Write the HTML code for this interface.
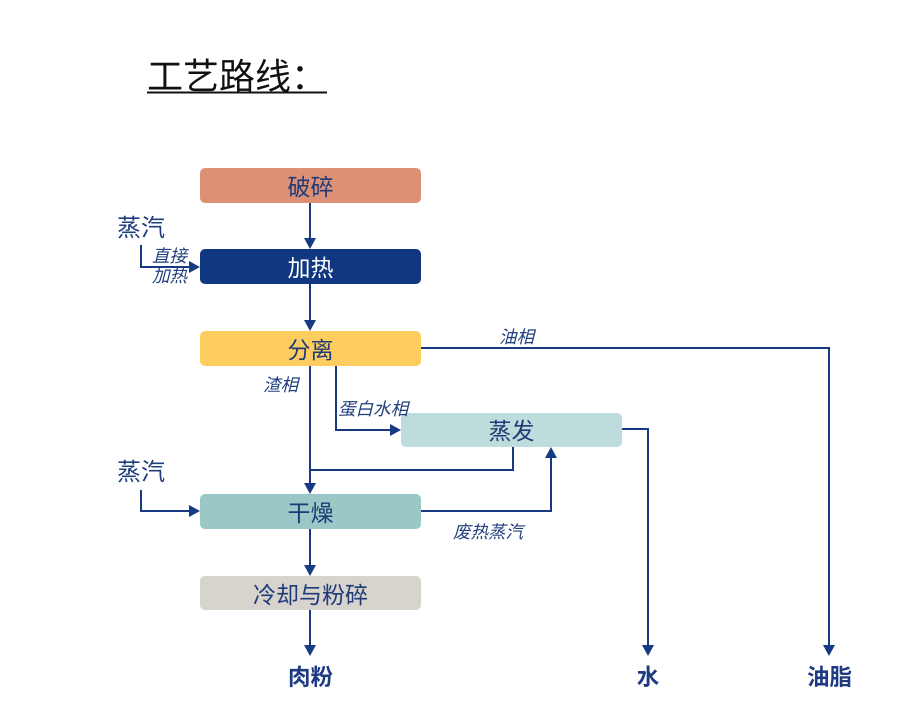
<!DOCTYPE html>
<html>
<head>
<meta charset="utf-8">
<style>
  html,body{margin:0;padding:0;background:#fff;}
  body{width:924px;height:704px;overflow:hidden;}
  svg{display:block;}
  text{font-family:"Liberation Sans","Noto Sans CJK SC","WenQuanYi Zen Hei",sans-serif;}
</style>
</head>
<body>
<svg width="924" height="704" viewBox="0 0 924 704" xmlns="http://www.w3.org/2000/svg">
  <!-- Title -->
  <text x="147" y="89" font-size="36" fill="#111">工艺路线：</text>
  <line x1="147" y1="92.5" x2="327" y2="92.5" stroke="#111" stroke-width="2"/>

  <!-- Boxes -->
  <rect x="200" y="168" width="221" height="35" rx="5" fill="#DC9177"/>
  <rect x="200" y="249" width="221" height="35" rx="5" fill="#10377F"/>
  <rect x="200" y="331" width="221" height="35" rx="5" fill="#FDCD60"/>
  <rect x="401" y="413" width="221" height="34" rx="5" fill="#BEDCDC"/>
  <rect x="200" y="494" width="221" height="35" rx="5" fill="#99C8C6"/>
  <rect x="200" y="576" width="221" height="34" rx="5" fill="#D7D3CD"/>

  <g font-size="23" text-anchor="middle">
    <text x="310.5" y="195" fill="#1E3A78">破碎</text>
    <text x="310.5" y="276" fill="#ffffff">加热</text>
    <text x="310.5" y="358" fill="#1E3A78">分离</text>
    <text x="511.5" y="439" fill="#1E3A78">蒸发</text>
    <text x="310.5" y="521" fill="#1E3A78">干燥</text>
    <text x="310.5" y="603" fill="#1E3A78">冷却与粉碎</text>
  </g>

  <!-- Connectors -->
  <g stroke="#173A82" stroke-width="2" fill="none">
    <path d="M310 203 V240"/>
    <path d="M141 245 V267 H190"/>
    <path d="M310 284 V322"/>
    <path d="M421 348 H829 V646"/>
    <path d="M310 366 V484"/>
    <path d="M336 366 V430 H391"/>
    <path d="M513 447 V470 H310"/>
    <path d="M421 511 H551 V458"/>
    <path d="M141 490 V511 H190"/>
    <path d="M622 429 H648 V646"/>
    <path d="M310 529 V566"/>
    <path d="M310 610 V646"/>
  </g>

  <!-- Arrowheads -->
  <g fill="#173A82">
    <polygon points="304,238 316,238 310,249"/>
    <polygon points="189,261 189,273 200,267"/>
    <polygon points="304,320 316,320 310,331"/>
    <polygon points="823,645 835,645 829,656"/>
    <polygon points="304,483 316,483 310,494"/>
    <polygon points="390,424 390,436 401,430"/>
    <polygon points="545,458 557,458 551,447"/>
    <polygon points="189,505 189,517 200,511"/>
    <polygon points="642,645 654,645 648,656"/>
    <polygon points="304,565 316,565 310,576"/>
    <polygon points="304,645 316,645 310,656"/>
  </g>

  <!-- Labels -->
  <g fill="#213F7E">
    <text x="117" y="236" font-size="24">蒸汽</text>
    <text x="117" y="480" font-size="24">蒸汽</text>
    <g font-size="17.5" font-style="italic">
      <text x="152" y="262">直接</text>
      <text x="152" y="282">加热</text>
      <text x="499" y="343">油相</text>
      <text x="263" y="391">渣相</text>
      <text x="338" y="415">蛋白水相</text>
      <text x="453" y="538">废热蒸汽</text>
    </g>
  </g>

  <g fill="#1E3A80" font-size="22.5" font-weight="bold" text-anchor="middle">
    <text x="310.5" y="685">肉粉</text>
    <text x="648" y="685">水</text>
    <text x="829.5" y="685">油脂</text>
  </g>
</svg>
</body>
</html>
